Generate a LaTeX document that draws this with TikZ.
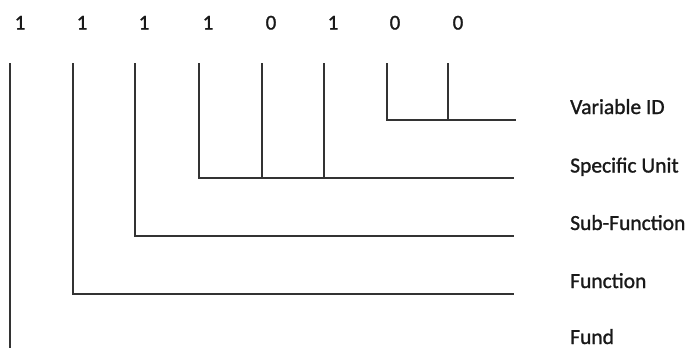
\documentclass[tikz,border=0pt]{standalone}
\usepackage{fontspec}
\setmainfont{Carlito}[FakeBold=1.2]
\begin{document}
\begin{tikzpicture}[x=1pt,y=-1pt,
  digit/.style={anchor=base,inner sep=0pt,font=\fontsize{21}{24}\selectfont,text=black!90},
  lbl/.style={anchor=base west,inner sep=0pt,font=\fontsize{21.5}{25}\selectfont,text=black!90},
  wire/.style={line width=1.3pt,draw=black!80}]
\useasboundingbox[fill=white] (0,0) rectangle (691,348);
% digits
\foreach \i/\x/\d in {1/20/1,2/82/1,3/144/1,4/208/1,5/271/0,6/333/1,7/395/0,8/458/0}
  \node[digit] (d\i) at (\x,29.5) {\d};
% tops of vertical lines
\foreach \i/\x in {1/10,2/73,3/135,4/199,5/262,6/324,7/387,8/448}
  \coordinate (t\i) at (\x,63);
% ends of horizontal lines
\coordinate (eV) at (516,120);
\coordinate (eS) at (514,178);
\coordinate (eSF) at (514,236);
\coordinate (eF) at (514,294);
\coordinate (bot) at (10,349);
% labels
\node[lbl] (lV) at (570,114) {Variable ID};
\node[lbl] (lS) at (570,172.5) {Specific Unit};
\node[lbl] (lSF) at (570,230) {Sub-Function};
\node[lbl] (lF) at (570,288) {Function};
\node[lbl] (lFd) at (570,344) {Fund};
% connectors
\draw[wire] (t7) |- (eV);
\draw[wire] (t8) -- (t8 |- eV);
\draw[wire] (t4) |- (eS);
\draw[wire] (t5) -- (t5 |- eS);
\draw[wire] (t6) -- (t6 |- eS);
\draw[wire] (t3) |- (eSF);
\draw[wire] (t2) |- (eF);
\draw[wire] (t1) -- (bot);
\end{tikzpicture}
\end{document}
